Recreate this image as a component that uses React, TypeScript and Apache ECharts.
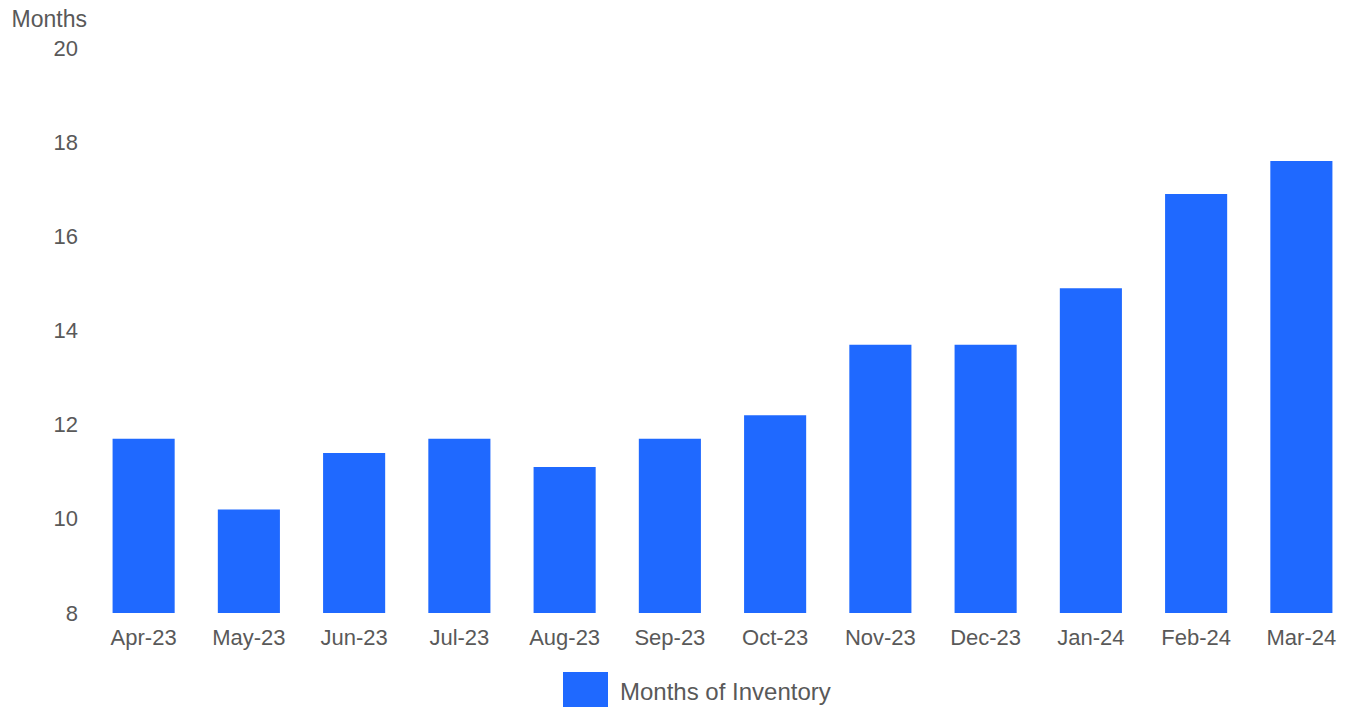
import React, { useEffect, useRef } from "react";
import * as echarts from "echarts";

const categories = ["Apr-23", "May-23", "Jun-23", "Jul-23", "Aug-23", "Sep-23", "Oct-23", "Nov-23", "Dec-23", "Jan-24", "Feb-24", "Mar-24"];
const monthsOfInventory = [11.7, 10.2, 11.4, 11.7, 11.1, 11.7, 12.2, 13.7, 13.7, 14.9, 16.9, 17.6];
const seriesName = "Months of Inventory";
const yAxisName = "Months";

export default function App() {
  const ref = useRef<HTMLDivElement>(null);
  useEffect(() => {
    if (!ref.current) return;
    const chart = echarts.init(ref.current, null, { renderer: "svg" });
    const textColor = "#595959";
    const font = "Arial, 'Liberation Sans', sans-serif";
    chart.setOption({
      animation: false,
      backgroundColor: "#ffffff",
      grid: { left: 91, right: 8, top: 48, bottom: 94, containLabel: false },
      legend: {
        left: 558,
        top: 667,
        itemWidth: 45,
        itemHeight: 38,
        icon: "rect",
        textStyle: { color: textColor, fontSize: 24, fontFamily: font, padding: [0, 0, 0, 7] },
        data: [seriesName],
      },
      xAxis: {
        type: "category",
        data: categories,
        axisLine: { show: false },
        axisTick: { show: false },
        axisLabel: { color: textColor, fontSize: 22, fontFamily: font, margin: 13, interval: 0 },
      },
      yAxis: {
        type: "value",
        min: 8,
        max: 20,
        interval: 2,
        name: yAxisName,
        nameLocation: "end",
        nameGap: 18,
        nameTextStyle: { color: textColor, fontSize: 23, fontFamily: font, align: "right", padding: [0, 4, 0, 0] },
        axisLine: { show: false },
        axisTick: { show: false },
        splitLine: { show: false },
        axisLabel: { color: textColor, fontSize: 22, fontFamily: font, margin: 13 },
      },
      series: [
        {
          name: seriesName,
          type: "bar",
          data: monthsOfInventory,
          barCategoryGap: "41%",
          itemStyle: { color: "#1F69FF" },
        },
      ],
    });
    return () => chart.dispose();
  }, []);
  return <div ref={ref} style={{ position: "fixed", left: 0, top: 0, width: 1362, height: 707 }} />;
}
